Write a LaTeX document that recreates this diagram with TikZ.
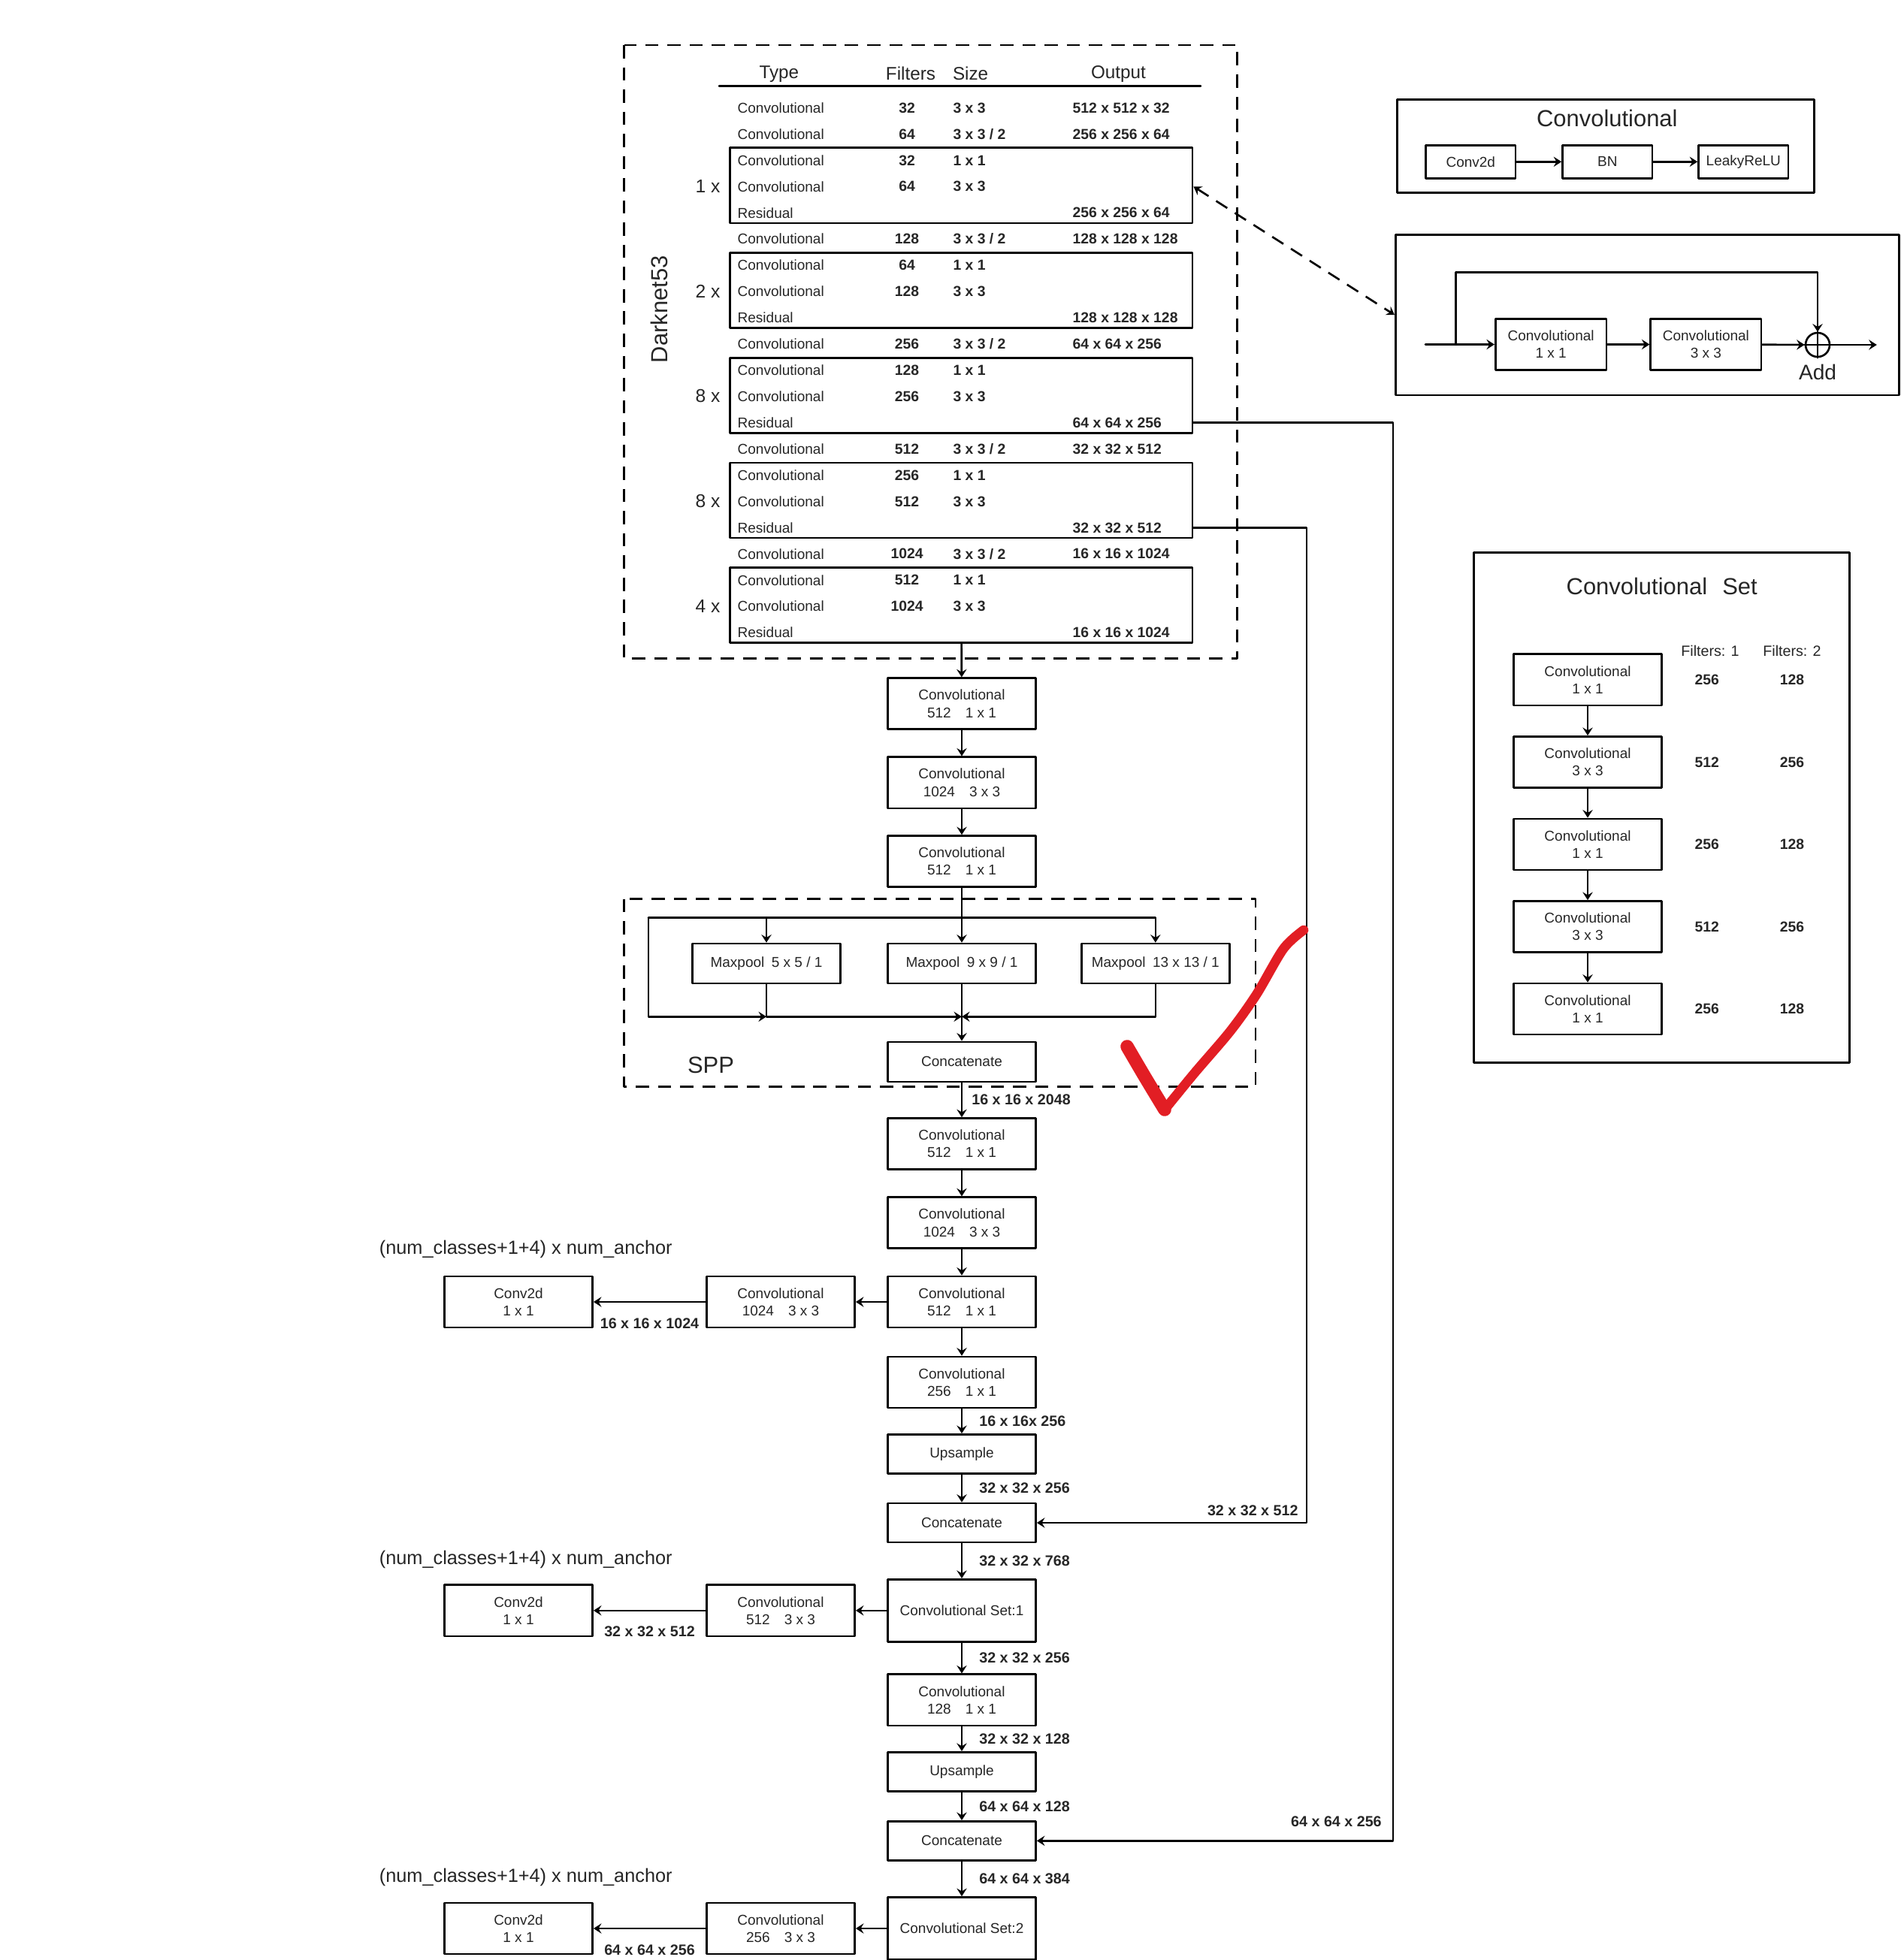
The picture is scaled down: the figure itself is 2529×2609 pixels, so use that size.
\documentclass[tikz,border=0pt]{standalone}
\usepackage{fontspec}
\setmainfont{Liberation Sans}
\usetikzlibrary{arrows.meta,calc,positioning}
\definecolor{tickred}{RGB}{226,30,36}

\begin{document}
\begin{tikzpicture}[x=0.01cm, y=-0.01cm, line cap=round, line join=round,
    >={Stealth[length=3pt,width=3.8pt,inset=1.1pt]},
    every node/.style={text=black!85},
    lw/.style={line width=0.75pt},
    dashbox/.style={lw, line cap=butt, dash pattern=on 5pt off 3.4pt},
    blk/.style={draw=black, lw, minimum width=1.97cm, minimum height=0.68cm,
      align=center, inner sep=1pt, font=\fontsize{5.4}{6.6}\selectfont},
    blkflat/.style={blk, minimum height=0.52cm},
    blkset/.style={blk, minimum height=0.83cm},
    pframe/.style={draw=black, lw, inner sep=0pt},
    tcell/.style={inner sep=0pt, font=\fontsize{5.4}{6.5}\selectfont},
    tnum/.style={inner sep=0pt, font=\fontsize{5.5}{6.5}\selectfont\bfseries},
    thead/.style={inner sep=0pt, font=\fontsize{6.9}{8}\selectfont},
    tbig/.style={inner sep=0pt, font=\fontsize{8.8}{10}\selectfont},
    tmult/.style={inner sep=0pt, font=\fontsize{7}{8}\selectfont},
    tnote/.style={inner sep=0pt, font=\fontsize{7.2}{8.5}\selectfont},
    dimlbl/.style={inner sep=0pt, font=\fontsize{5.6}{6.5}\selectfont\bfseries}]

  % Page window (pixel units of the reference)
  \useasboundingbox (0,0) rectangle (2529,2609);
  \def\cx{1280}

  % Darknet53 backbone table
  \draw[dashbox] (830.8,60) rectangle (1646.7,876.7);
  \node[tbig, rotate=90] (dn) at (877,411.7) {Darknet53};
  \node[thead] (hType) at (1036.8,98.3) {Type};
  \node[thead] (hFilt) at (1212,98.3) {Filters};
  \node[thead] (hSize) at (1291.6,98.3) {Size};
  \node[thead] (hOut) at (1488.4,98.3) {Output};
  \draw[lw] (957,114.3) -- (1598,114.3);

  \foreach \rtype/\rfilt/\rsize/\rout [count=\i] in
   {Convolutional/32/3 x 3/512 x 512 x 32,
    Convolutional/64/{3 x 3 / 2}/256 x 256 x 64,
    Convolutional/32/1 x 1/{},
    Convolutional/64/3 x 3/{},
    Residual/{}/{}/256 x 256 x 64,
    Convolutional/128/{3 x 3 / 2}/128 x 128 x 128,
    Convolutional/64/1 x 1/{},
    Convolutional/128/3 x 3/{},
    Residual/{}/{}/128 x 128 x 128,
    Convolutional/256/{3 x 3 / 2}/64 x 64 x 256,
    Convolutional/128/1 x 1/{},
    Convolutional/256/3 x 3/{},
    Residual/{}/{}/64 x 64 x 256,
    Convolutional/512/{3 x 3 / 2}/32 x 32 x 512,
    Convolutional/256/1 x 1/{},
    Convolutional/512/3 x 3/{},
    Residual/{}/{}/32 x 32 x 512,
    Convolutional/1024/{3 x 3 / 2}/16 x 16 x 1024,
    Convolutional/512/1 x 1/{},
    Convolutional/1024/3 x 3/{},
    Residual/{}/{}/16 x 16 x 1024}{
    \pgfmathsetmacro\yy{143.5+(\i-1)*34.93}
    \node[tcell, anchor=west] (ty\i) at (981,\yy) {\rtype};
    \node[tnum] (fi\i) at (1207,\yy) {\rfilt};
    \node[tnum, anchor=west] (sz\i) at (1267.8,\yy) {\rsize};
    \node[tnum, anchor=west] (ou\i) at (1427,\yy) {\rout};
  }

  % Residual groups and repeat counts
  \foreach \a/\b [count=\k] in {3/5,7/9,11/13,15/17,19/21}{
    \pgfmathsetmacro\yc{143+(\a+\b-2)/2*34.93-1}
    \node[pframe, minimum width=6.15cm, minimum height=1.0cm] (res\k) at (1279.4,\yc) {};
  }
  \foreach \m/\r in {1/4,2/8,8/12,8/16,4/20}{
    \pgfmathsetmacro\yy{143+(\r-1)*34.93}
    \node[tmult] (mul\r) at (942,\yy) {\m\ x};
  }

  % Convolutional block
  \node[pframe, minimum width=5.545cm, minimum height=1.244cm] (convP) at (2137,194.5) {};
  \node[tbig] (convT) at (2138.8,157.7) {Convolutional};
  \node[blk, minimum width=1.195cm, minimum height=0.44cm] (cv2d) at (1957.3,215.3) {Conv2d};
  \node[blk, minimum width=1.195cm, minimum height=0.44cm] (bn) at (2139.3,215.3) {BN};
  \node[blk, minimum width=1.195cm, minimum height=0.44cm] (lrelu) at (2320.3,215.3) {LeakyReLU};
  \draw[->, lw] (cv2d) -- (bn);
  \draw[->, lw] (bn) -- (lrelu);

  % Residual block
  \node[pframe, minimum width=6.699cm, minimum height=2.137cm] (resP) at (2192.5,419.2) {};
  \node[blk, minimum width=1.476cm] (ra) at (2064.1,458.5) {Convolutional\\1 x 1};
  \node[blk, minimum width=1.472cm] (rb) at (2270.4,458.5) {Convolutional\\3 x 3};
  \node[draw=black, lw, circle, minimum size=0.32cm, inner sep=0pt] (add) at (2419,459) {};
  \draw[lw] (add.north) -- (add.south) (add.west) -- (add.east);
  \node[tbig, font=\fontsize{8}{9}\selectfont] (addl) at (2419,495) {Add};
  \coordinate (rin) at (1897,458.5);
  \coordinate (rsp) at (1937.5,458.5);
  \coordinate (rout) at (2497.8,459);
  \draw[->, lw] (rin) -- (ra);
  \draw[->, lw] (ra) -- (rb);
  \draw[->, lw] (rb) -- (add);
  \draw[->, lw] (add) -- (rout);
  \draw[->, lw] (rsp) -- (1937.5,362.3) -| (add.north);
  \draw[<->, dashbox] (ty4 -| res1.east) -- (resP.west);

  % Convolutional Set block
  \node[pframe, minimum width=4.993cm, minimum height=6.784cm] (setP) at (2211.4,1074.8) {};
  \node[tbig] (setT) at (2211.7,780) {Convolutional\hspace{0.65em}Set};
  \node[tcell, font=\fontsize{5.6}{6.5}\selectfont] (fh1) at (2276,866.4) {Filters: 1};
  \node[tcell, font=\fontsize{5.6}{6.5}\selectfont] (fh2) at (2385,866.4) {Filters: 2};
  \foreach \ks/\fa/\fb [count=\k] in {1 x 1/256/128, 3 x 3/512/256, 1 x 1/256/128, 3 x 3/512/256, 1 x 1/256/128}{
    \pgfmathsetmacro\yy{904.8+(\k-1)*109.55}
    \node[blk] (s\k) at (2113,\yy) {Convolutional\\\ks};
    \node[tnum] (sa\k) at (2271.7,\yy) {\fa};
    \node[tnum] (sb\k) at (2385,\yy) {\fb};
  }
  \foreach \k [evaluate=\k as \n using int(\k+1)] in {1,...,4}
    \draw[->, lw] (s\k) -- (s\n);

  % Neck: first three convolutions
  \node[blk] (c1) at (\cx,936.7) {Convolutional\\512\hspace{1em}1 x 1};
  \node[blk] (c2) at (\cx,1041.8) {Convolutional\\1024\hspace{1em}3 x 3};
  \node[blk] (c3) at (\cx,1146.5) {Convolutional\\512\hspace{1em}1 x 1};
  \draw[->, lw] (res5) -- (c1);
  \draw[->, lw] (c1) -- (c2);
  \draw[->, lw] (c2) -- (c3);

  % SPP
  \draw[dashbox] (830.3,1196.7) rectangle (1671,1446.7);
  \node[tbig] (spp) at (946,1418) {SPP};
  \node[blkflat, minimum height=0.53cm] (mp1) at (1020,1282.5) {Maxpool\hspace{0.5em}5 x 5 / 1};
  \node[blkflat, minimum height=0.53cm] (mp2) at (\cx,1282.5) {Maxpool\hspace{0.5em}9 x 9 / 1};
  \node[blkflat, minimum height=0.53cm] (mp3) at (1537.8,1282.5) {Maxpool\hspace{0.5em}13 x 13 / 1};
  \node[blkflat, minimum height=0.53cm] (cat0) at (\cx,1413.4) {Concatenate};
  \coordinate (fl) at (863,1221.7);
  \coordinate (mj) at (\cx,1353.3);
  \draw[->, lw] (c3) -- (mp2);
  \draw[->, lw] (fl) -| (mp3.north);
  \draw[->, lw] (mp1.north |- fl) -- (mp1.north);
  \draw[->, lw] (fl) |- (mp1.south |- mj);
  \draw[->, lw] (mp1.south) |- (mj);
  \draw[->, lw] (mp3.south) |- (mj);
  \draw[lw] (mp2.south) -- (mj);
  \draw[->, lw] (mj) -- (cat0);

  % Neck and heads
  \node[blk] (c4) at (\cx,1522.5) {Convolutional\\512\hspace{1em}1 x 1};
  \node[blk] (c5) at (\cx,1627.7) {Convolutional\\1024\hspace{1em}3 x 3};
  \node[blk] (c6) at (\cx,1733) {Convolutional\\512\hspace{1em}1 x 1};
  \node[blk] (c7) at (\cx,1840) {Convolutional\\256\hspace{1em}1 x 1};
  \node[blkflat] (up1) at (\cx,1935.4) {Upsample};
  \node[blkflat] (cat1) at (\cx,2027) {Concatenate};
  \node[blkset] (set1) at (\cx,2143.8) {Convolutional Set:1};
  \node[blk] (c8) at (\cx,2262.8) {Convolutional\\128\hspace{1em}1 x 1};
  \node[blkflat] (up2) at (\cx,2358.3) {Upsample};
  \node[blkflat] (cat2) at (\cx,2450.3) {Concatenate};
  \node[blkset] (set2) at (\cx,2567) {Convolutional Set:2};

  \draw[->, lw] (cat0) -- node[dimlbl, right=0.12cm] {16 x 16 x 2048} (c4);
  \draw[->, lw] (c4) -- (c5);
  \draw[->, lw] (c5) -- (c6);
  \draw[->, lw] (c6) -- (c7);
  \draw[->, lw] (c7) -- node[dimlbl, right=0.22cm] {16 x 16x 256} (up1);
  \draw[->, lw] (up1) -- node[dimlbl, right=0.22cm] {32 x 32 x 256} (cat1);
  \draw[->, lw] (cat1) -- node[dimlbl, right=0.22cm] {32 x 32 x 768} (set1);
  \draw[->, lw] (set1) -- node[dimlbl, right=0.22cm] {32 x 32 x 256} (c8);
  \draw[->, lw] (c8) -- node[dimlbl, right=0.22cm] {32 x 32 x 128} (up2);
  \draw[->, lw] (up2) -- node[dimlbl, right=0.22cm] {64 x 64 x 128} (cat2);
  \draw[->, lw] (cat2) -- node[dimlbl, right=0.22cm] {64 x 64 x 384} (set2);

  % Output branches
  \node[blk] (cv1) at (1039,1733) {Convolutional\\1024\hspace{1em}3 x 3};
  \node[blk] (hd1) at (690,1733) {Conv2d\\1 x 1};
  \node[blk] (cv2) at (1039,2143.8) {Convolutional\\512\hspace{1em}3 x 3};
  \node[blk] (hd2) at (690,2143.8) {Conv2d\\1 x 1};
  \node[blk] (cv3) at (1039,2567) {Convolutional\\256\hspace{1em}3 x 3};
  \node[blk] (hd3) at (690,2567) {Conv2d\\1 x 1};
  \node[tnote, anchor=west] (nt1) at ($(hd1.north west)+(-86,-35)$) {(num\_classes+1+4) x num\_anchor};
  \node[tnote, anchor=west] (nt2) at ($(hd2.north west)+(-86,-33)$) {(num\_classes+1+4) x num\_anchor};
  \node[tnote, anchor=west] (nt3) at ($(hd3.north west)+(-86,-33)$) {(num\_classes+1+4) x num\_anchor};
  \draw[->, lw] (c6) -- (cv1);
  \draw[->, lw] (cv1) -- node[dimlbl, below=0.2cm] {16 x 16 x 1024} (hd1);
  \draw[->, lw] (set1) -- (cv2);
  \draw[->, lw] (cv2) -- node[dimlbl, below=0.2cm] {32 x 32 x 512} (hd2);
  \draw[->, lw] (set2) -- (cv3);
  \draw[->, lw] (cv3) -- node[dimlbl, below=0.2cm] {64 x 64 x 256} (hd3);

  % Skip routes from the backbone
  \coordinate (k1) at (1738.8,702);
  \coordinate (k2) at (1854,562);
  \draw[->, lw] (ty17 -| res4.east) -- (ty17 -| k1) |- node[dimlbl, pos=0.5, anchor=south east, xshift=-0.1cm, yshift=0.08cm] {32 x 32 x 512} (cat1.east);
  \draw[->, lw] (ty13 -| res3.east) -- (ty13 -| k2) |- node[dimlbl, pos=0.5, anchor=south east, xshift=-0.14cm, yshift=0.17cm] {64 x 64 x 256} (cat2.east);

  % Hand-drawn tick
  \draw[tickred, line width=5pt] plot[smooth] coordinates {(1500,1393) (1524,1434) (1550,1477)};
  \draw[tickred, line width=3.6pt] plot[smooth] coordinates {(1550,1477) (1590,1428) (1637,1373) (1672,1324) (1708,1263) (1735,1238)};
\end{tikzpicture}
\end{document}
